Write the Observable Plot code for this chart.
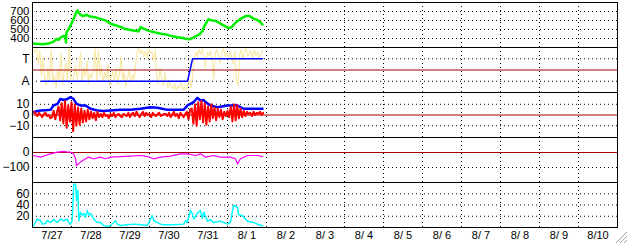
<!DOCTYPE html>
<html><head><meta charset="utf-8">
<script src="https://cdn.jsdelivr.net/npm/d3@7"></script>
<script src="https://cdn.jsdelivr.net/npm/@observablehq/plot@0.6"></script>
<style>
body{margin:0;background:#fff;}
#chart{position:relative;width:628px;height:244px;overflow:hidden;font-family:"Liberation Sans",Arial,sans-serif;background:#fff;}
#chart svg{display:block;}
#grip{position:absolute;left:614px;top:230px;}
</style></head><body><div id="chart"></div>
<script>
// x values are hours since 7/27 00:00
const dayLabels = ["7/27","7/28","7/29","7/30","7/31","8/ 1","8/ 2","8/ 3","8/ 4","8/ 5","8/ 6","8/ 7","8/ 8","8/ 9","8/10"];

// panel 1 (green)
const greenTicks = [400, 500, 600, 700];
const greenSeries = [[0.6,345],[2.5,342],[4.9,340],[6,336],[7.4,338],[8.6,342],[9.8,345],[11,352],[12.3,360],[13.5,372],[14.8,395],[16,385],[17.2,410],[18.2,418],[19.1,430],[20.3,415],[20.6,355],[20.9,470],[22.2,500],[23.4,545],[24.6,590],[25.8,640],[27.1,700],[27.7,712],[28.3,690],[29.5,665],[30.8,650],[32,655],[33.2,665],[34.5,650],[35.7,645],[37.2,640],[38.8,635],[40.2,626],[41.8,618],[43.4,610],[44.9,600],[46.4,585],[48,565],[49.5,556],[51.1,548],[52.6,538],[54.2,528],[55.8,515],[57.2,505],[58.8,500],[60.3,495],[62,490],[63.4,485],[65.2,480],[66.5,525],[68.3,510],[70.8,490],[72.3,482],[73.8,475],[75.4,468],[76.9,462],[78.5,455],[80,450],[81.6,446],[83.1,440],[84.6,432],[86.2,425],[87.7,420],[89.2,415],[90.8,410],[92.3,405],[93.5,400],[94.8,398],[96,392],[97.2,395],[99.1,410],[100.9,430],[102.8,445],[103.7,470],[104.6,480],[105.5,530],[106.5,560],[107.4,590],[108.3,615],[109.5,605],[110.8,600],[112,598],[113.2,590],[114.5,578],[115.7,565],[117,552],[118.2,540],[119.4,528],[120.6,515],[122.5,525],[123.7,550],[124.9,575],[126.2,595],[127.4,610],[128.6,625],[129.8,635],[130.7,645],[131.7,650],[133.5,650],[134.5,640],[135.4,625],[136.6,618],[137.8,610],[139.7,590],[140.6,575],[141.5,555]];

// panel 2 (mode A/T)
const modeTicks = [1,3];
const modeTickLabels = ["A","T"];
const yellowVals = [3.8,3.6,3.9,2.5,3.7,1.5,3.2, 1.2,0.6,2.2,1.0,3.8,0.8,1.6,0.4, 2.0,1.1,3.5,0.7,1.8,2.6,1.0,3.9,1.4,0.9, 1.5,2.4,1.2,1.9,3.6,1.0,2.2,1.4,2.8,0.8,1.7,1.3, 2.0,3.9,1.1,3.7,1.5,2.3,0.9,1.8,1.2,2.5,0.6,1.4, 1.9,1.0,2.2,0.7,1.5,3.2,1.1,1.8,0.5,1.3,2.0,0.9, 1.6,1.1,2.6,3.6,3.9,3.4,3.8,3.2,3.7,3.0,3.9,3.5, 3.6,2.8,3.8,1.4,0.8,2.1,1.2,0.6,1.8,0.9,0.4,1.1, 0.5,0.3,0.8,0.2,0.6,0.4,0.9,0.3,0.5,0.2,0.7,1.2, 0.4,1.5,2.8,3.6,3.2,3.8,3.4,3.9,3.1,2.2,3.6,3.3, 3.7,3.0,1.2,3.5,3.8,3.2,2.6,3.6,3.9,3.3,3.5,3.1, 3.6,3.2,2.5,3.7,1.0,0.6,3.4,3.8,2.9,3.6,3.9,3.2, 3.5,3.7,3.0,3.8,3.3,3.6,3.1,3.4,3.7];
const modeSeries = [[5.5,1],[95.4,1],[98.5,3],[141.5,3]];

// panel 3 (blue / red)
const diffTicks = [-10, 0, 10];
const blueSeries = [[0.6,2.6],[2.5,3.5],[4.9,4.2],[8,4.5],[11.1,4.8],[12.9,8.9],[15.4,10.4],[17.2,15],[19.1,14],[21.5,15],[23.4,16.6],[25.2,15],[27.1,10.4],[29.5,8.9],[32.6,8.9],[35.7,5.8],[40,4.2],[43.7,3.8],[48,4.2],[54.2,4.8],[60.3,4.8],[66.5,5.8],[72.6,7.3],[76.9,6.8],[83.1,4.8],[89.2,4.8],[92.9,4.8],[95.4,8.9],[97.2,10.4],[99.1,12],[101.5,16],[103.4,13.5],[105.2,14],[106.5,12],[109.5,8.9],[113.8,7.3],[120,8.9],[126.2,8.9],[129.8,5.8],[134.2,5.8],[141.5,5.8]];
const redVals = [3,1,-1,2,0,-2,1,2,-1,0,-3, -2,4,-4,2,8,-5, 11,-8,13,-12,9,-6,12,-15,10,-10,7,-9,6,-7, 4,-6,5,-4,3,-3,2,-5,3,-2, 1,-2,2,-1,0,-3,1,-1,2,-2,0,1,-1,-2,1,0,-1,2,-2,1, 2,-1,3,0,-2,1,3,-1,2,0,1,-2,2,0,-1,1,2,-1,0,1, 1,-1,2,-2,0,3,-1,1,-3,2,0,-2,1,3,-4,5, 6,-8,10,-10,12,-4,13,-7,11,-9,8,-6,10,-3,7,-5,6,-2,5,-4,3,-1,4,-2, 8,-6,10,-5,9,-3,6,-2,4,-1,3,1,2,-1,3,0,2,1,3,0,2];

// panel 4 (magenta)
const magTicks = [-100, 0];
const magentaSeries = [[0.6,-20],[4.9,-31],[8,-20],[11.1,-9],[15.4,2],[19.1,7],[21.5,2],[23.4,2],[25.2,-9],[26.5,-40],[27.1,-87],[27.7,-80],[29.5,-64],[32.6,-42],[34.5,-31],[37.5,-42],[41.8,-31],[44.9,-42],[48,-31],[54.2,-27],[60.3,-24],[66.5,-20],[70.8,-27],[74.5,-42],[78.8,-31],[84.9,-24],[91.1,-9],[95.4,-9],[100.3,-20],[103.4,-9],[106.5,-31],[111.4,-20],[115.7,-31],[121.8,-31],[124.9,-42],[126.2,-76],[128,-42],[132.3,-20],[138.5,-20],[141.5,-27]];

// panel 5 (cyan)
const cyanTicks = [20, 40, 60];
const cyanSeries = [[0.8,3.6],[2.9,15.4],[4.9,12],[6,6],[8,7],[9,12.4],[11.1,9],[13.1,14],[15.2,9],[17.2,15],[19.3,12],[21.4,15],[22.3,9],[23.4,6],[24.4,12],[25.4,77],[26.5,77],[27.1,48],[27.9,66],[28.5,12],[29.5,27],[30.6,22],[31.6,25],[32.6,18],[33.7,30],[34.6,22],[35.7,25],[37.7,15],[39.8,9],[41.8,9],[43.9,3.6],[46,2],[48,3.6],[50,9],[51.1,12],[52.1,6],[54.2,3.6],[58.3,4.7],[62.3,6],[66.5,4.7],[70.6,3.6],[72.6,15],[73.6,21],[74.7,12],[76.7,9],[78.8,6],[80.8,4.7],[87,4.7],[93.1,6],[94.2,12],[95.2,9],[97.2,30],[98.3,25],[99.3,15],[101.4,25],[103.4,30],[104.5,16],[105.5,27],[107.7,11],[109.5,14],[111.4,9],[115.7,11],[120,6],[121.8,9],[123.7,39],[126.2,36],[126.8,23],[129.2,21],[132.3,11],[136,9],[139.1,5],[141.5,3]];

const dayLines = d3.range(1, dayLabels.length).map(d => d * 24);
const dayCenters = dayLabels.map((_, i) => i * 24 + 12);
const dotted = {stroke: "black", strokeDasharray: "1,3", strokeWidth: 1};
const darkRed = "#a00000";

function panel({height, marginTop = 0, marginBottom = 0, y, gridY, marks, tickValues, tickFormat, fontSize = 12, xAxis = false}) {
  return Plot.plot({
    width: 628, height, marginLeft: 32, marginRight: 11, marginTop, marginBottom,
    style: {background: "white", color: "black", fontFamily: "'Liberation Sans', Arial, sans-serif", fontSize: "12px"},
    x: {domain: [0, dayLabels.length * 24], axis: null},
    y: {domain: y, axis: null},
    marks: [
      Plot.ruleX(dayLines, dotted),
      Plot.ruleY(gridY, dotted),
      ...marks,
      Plot.frame({stroke: "black"}),
      Plot.axisY(tickValues, {tickSize: 0, tickPadding: 3, fontSize, tickFormat}),
      ...(xAxis ? [Plot.axisX(dayCenters, {tickSize: 0, tickPadding: 4, fontSize: 11, tickFormat: d => dayLabels[Math.round((d - 12) / 24)]})] : [])
    ]
  });
}

const chart = document.getElementById("chart");
chart.append(panel({
  height: 47, marginTop: 2, y: [300, 800], gridY: greenTicks, tickValues: greenTicks, fontSize: 11.5,
  marks: [Plot.line(greenSeries, {x: d => d[0], y: d => d[1], stroke: "#00ee00", strokeWidth: 2.5, clip: true})]
}));
chart.append(panel({
  height: 45, y: [0, 4], gridY: modeTicks, tickValues: modeTicks,
  tickFormat: d => modeTickLabels[modeTicks.indexOf(d)],
  marks: [
    Plot.line(yellowVals, {x: (d, i) => i + 0.5, y: d => d, stroke: "#f8e9a8", strokeWidth: 1.2, clip: true}),
    Plot.ruleY([2], {stroke: darkRed, strokeWidth: 1}),
    Plot.line(modeSeries, {x: d => d[0], y: d => d[1], stroke: "#0000ff", strokeWidth: 1.5})
  ]
}));
chart.append(panel({
  height: 45, y: [-21, 21], gridY: [-10, 10], tickValues: diffTicks,
  marks: [
    Plot.line(blueSeries, {x: d => d[0], y: d => d[1], stroke: "#0000ff", strokeWidth: 2.5, clip: true}),
    Plot.ruleY([0], {stroke: darkRed, strokeWidth: 1}),
    Plot.line(redVals, {x: (d, i) => i + 1, y: d => d, stroke: "#ff0000", strokeWidth: 2, clip: true})
  ]
}));
chart.append(panel({
  height: 45, y: [-200, 100], gridY: [-100], tickValues: magTicks,
  marks: [
    Plot.ruleY([0], {stroke: darkRed, strokeWidth: 1}),
    Plot.line(magentaSeries, {x: d => d[0], y: d => d[1], stroke: "#ff00ff", strokeWidth: 1.2, clip: true})
  ]
}));
chart.append(panel({
  height: 62, marginBottom: 17, y: [0, 80], gridY: cyanTicks, tickValues: cyanTicks, xAxis: true,
  marks: [Plot.line(cyanSeries, {x: d => d[0], y: d => d[1], stroke: "#00ffff", strokeWidth: 1.5, clip: true})]
}));

// window resize grip
const grip = d3.select(chart).append("svg").attr("id", "grip").attr("width", 14).attr("height", 14);
[[13,2,2,13],[13,6,6,13],[13,10,10,13]].forEach(([x1,y1,x2,y2]) => {
  grip.append("line").attr("x1",x1).attr("y1",y1).attr("x2",x2).attr("y2",y2).attr("stroke","#a0a0a0");
  grip.append("line").attr("x1",x1+0.5).attr("y1",y1+1).attr("x2",x2+1).attr("y2",y2+0.5).attr("stroke","#ffffff");
});
</script></body></html>
